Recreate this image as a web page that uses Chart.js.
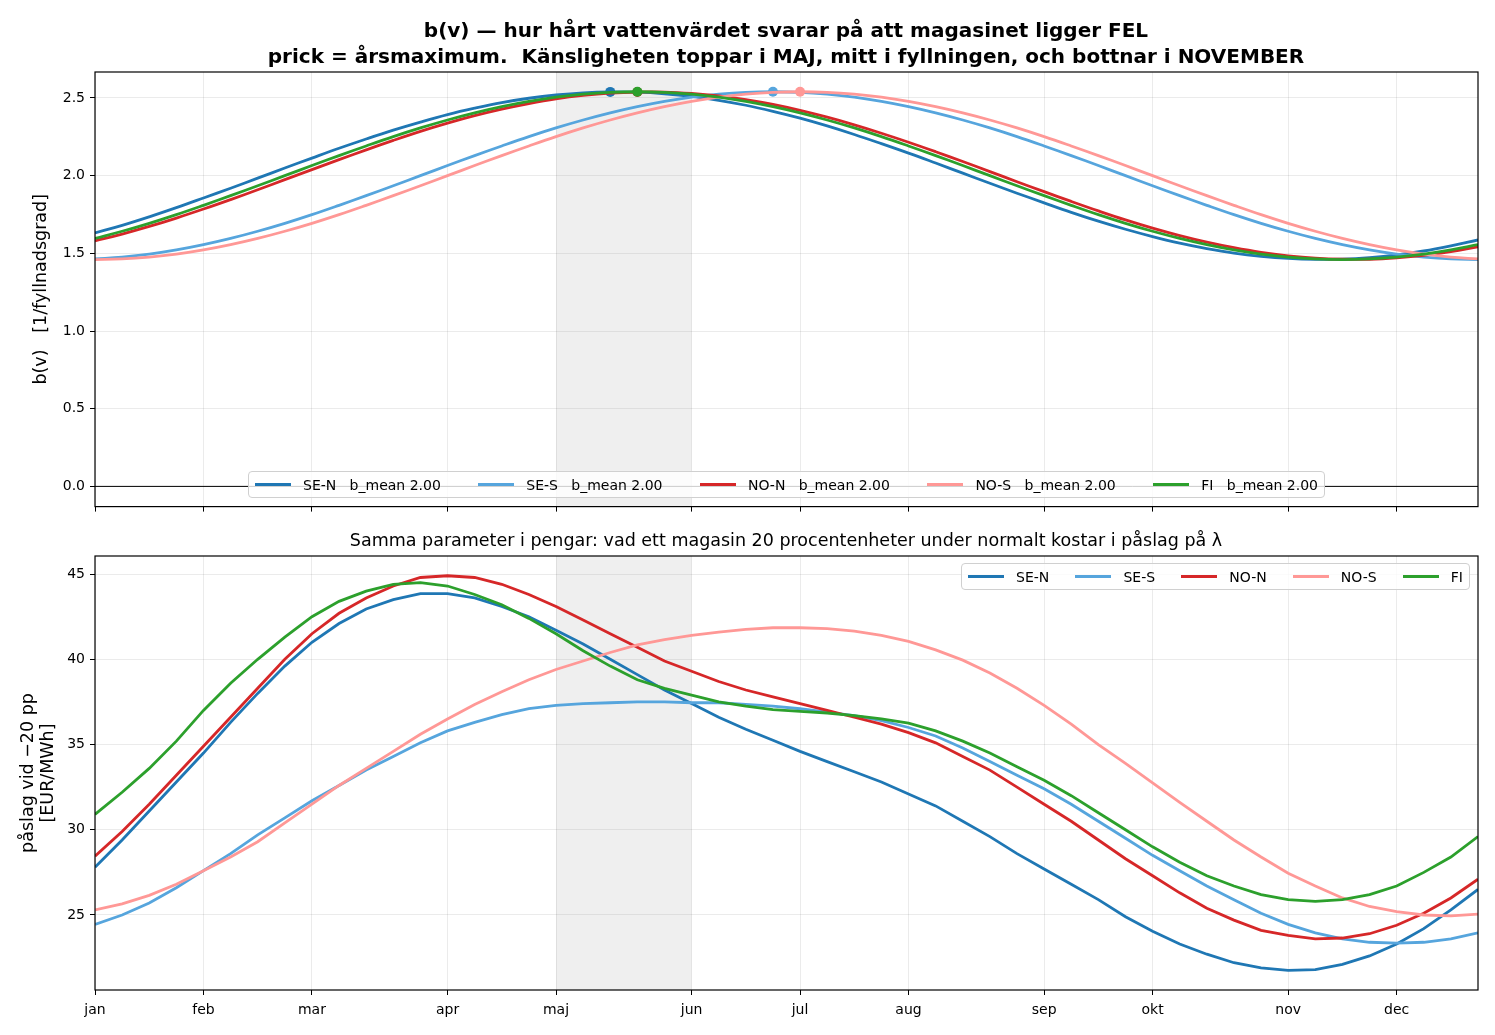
<!DOCTYPE html>
<html>
<head>
<meta charset="utf-8">
<script src="https://cdn.jsdelivr.net/npm/chart.js@4.4.1/dist/chart.umd.min.js"></script>
<style>
  body { margin: 0; background: #fff; width: 1495px; height: 1035px; overflow: hidden; font-family: "DejaVu Sans", sans-serif; }
  .box { position: absolute; left: 0; width: 1495px; }
  #topBox { top: 0; height: 520px; }
  #botBox { top: 520px; height: 515px; }
  .title { position: absolute; width: 1400px; left: 86px; text-align: center; color: #000; white-space: pre; }
  #mainTitle { top: 17px; font-size: 20px; font-weight: bold; line-height: 26px; }
  #subTitle { top: 530px; font-size: 17.5px; line-height: 20px; }
  .legend { position: absolute; display: flex; align-items: center; background: rgba(255,255,255,0.8);
            border: 1px solid #d0d0d0; border-radius: 4px; font-size: 14px; color: #000; padding: 0 6px; box-sizing: border-box; }
  .legend span.item { display: flex; align-items: center; white-space: pre; }
  .legend i { display: inline-block; width: 36px; height: 3px; margin-right: 12px; }
</style>
</head>
<body>
<div class="box" id="topBox"><canvas id="topChart"></canvas></div>
<div class="box" id="botBox"><canvas id="botChart"></canvas></div>
<div class="title" id="mainTitle">b(v) — hur hårt vattenvärdet svarar på att magasinet ligger FEL
prick = årsmaximum.  Känsligheten toppar i MAJ, mitt i fyllningen, och bottnar i NOVEMBER</div>
<div class="title" id="subTitle">Samma parameter i pengar: vad ett magasin 20 procentenheter under normalt kostar i påslag på λ</div>
<div class="legend" id="topLegend" style="left:248px; top:471px; width:1077px; height:27px; justify-content:space-between;"></div>
<div class="legend" id="botLegend" style="left:961px; top:563px; width:509px; height:27px; justify-content:space-between;"></div>
<script>
// Regions and colours
const regions = ['SE-N', 'SE-S', 'NO-N', 'NO-S', 'FI'];
const colors = ['#1f77b4', '#56a5dd', '#d62728', '#ff9896', '#2ca02c'];

// Weekly points over the year, month tick positions (week index)
const weeks = Array.from({ length: 52 }, (_, i) => i);
const monthWeeks = [0, 4, 8, 13, 17, 22, 26, 30, 35, 39, 44, 48];
const monthLabels = ['jan', 'feb', 'mar', 'apr', 'maj', 'jun', 'jul', 'aug', 'sep', 'okt', 'nov', 'dec'];
const topTicks = [0, 0.5, 1.0, 1.5, 2.0, 2.5];
const botTicks = [25, 30, 35, 40, 45];

// b(v) per region (top panel)
const bSEN = [1.631, 1.680, 1.735, 1.794, 1.856, 1.919, 1.984, 2.049, 2.113, 2.176, 2.236, 2.293, 2.345, 2.393, 2.434, 2.470, 2.498, 2.519, 2.533, 2.539,
  2.537, 2.527, 2.510, 2.485, 2.453, 2.414, 2.370, 2.320, 2.265, 2.206, 2.145, 2.081, 2.016, 1.951, 1.887, 1.825, 1.764, 1.707, 1.655, 1.608,
  1.566, 1.531, 1.502, 1.481, 1.467, 1.461, 1.463, 1.473, 1.490, 1.515, 1.548, 1.586];
const bSES = [1.464, 1.476, 1.495, 1.522, 1.556, 1.596, 1.642, 1.693, 1.749, 1.809, 1.871, 1.935, 2.000, 2.065, 2.129, 2.191, 2.251, 2.307, 2.358, 2.404,
  2.444, 2.478, 2.505, 2.524, 2.536, 2.540, 2.536, 2.524, 2.505, 2.478, 2.444, 2.404, 2.358, 2.307, 2.251, 2.191, 2.129, 2.065, 2.000, 1.935,
  1.871, 1.809, 1.749, 1.693, 1.642, 1.596, 1.556, 1.522, 1.495, 1.476, 1.464, 1.460];
const bNON = [1.580, 1.624, 1.673, 1.727, 1.785, 1.846, 1.909, 1.974, 2.039, 2.103, 2.166, 2.227, 2.285, 2.338, 2.386, 2.428, 2.464, 2.494, 2.516, 2.531,
  2.538, 2.538, 2.529, 2.513, 2.489, 2.458, 2.420, 2.376, 2.327, 2.273, 2.215, 2.154, 2.091, 2.026, 1.961, 1.897, 1.834, 1.773, 1.715, 1.662,
  1.614, 1.572, 1.536, 1.506, 1.484, 1.469, 1.462, 1.462, 1.471, 1.487, 1.511, 1.542];
const bNOS = [1.460, 1.464, 1.476, 1.495, 1.522, 1.556, 1.596, 1.642, 1.693, 1.749, 1.809, 1.871, 1.935, 2.000, 2.065, 2.129, 2.191, 2.251, 2.307, 2.358,
  2.404, 2.444, 2.478, 2.505, 2.524, 2.536, 2.540, 2.536, 2.524, 2.505, 2.478, 2.444, 2.404, 2.358, 2.307, 2.251, 2.191, 2.129, 2.065, 2.000,
  1.935, 1.871, 1.809, 1.749, 1.693, 1.642, 1.596, 1.556, 1.522, 1.495, 1.476, 1.464];
const bFI = [1.596, 1.642, 1.693, 1.749, 1.809, 1.871, 1.935, 2.000, 2.065, 2.129, 2.191, 2.251, 2.307, 2.358, 2.404, 2.444, 2.478, 2.505, 2.524, 2.536,
  2.540, 2.536, 2.524, 2.505, 2.478, 2.444, 2.404, 2.358, 2.307, 2.251, 2.191, 2.129, 2.065, 2.000, 1.935, 1.871, 1.809, 1.749, 1.693, 1.642,
  1.596, 1.556, 1.522, 1.495, 1.476, 1.464, 1.460, 1.464, 1.476, 1.495, 1.522, 1.556];
const bMean = [2.00, 2.00, 2.00, 2.00, 2.00];

// påslag vid -20 pp [EUR/MWh] (bottom panel)
const pSEN = [27.8, 29.4, 31.1, 32.8, 34.5, 36.3, 38.0, 39.6, 41.0, 42.1, 42.95, 43.5, 43.85, 43.85, 43.6, 43.1, 42.5, 41.7, 40.9, 40.0,
  39.1, 38.2, 37.4, 36.6, 35.9, 35.25, 34.6, 34.0, 33.4, 32.8, 32.1, 31.4, 30.5, 29.6, 28.6, 27.7, 26.8, 25.9, 24.9, 24.05,
  23.3, 22.7, 22.2, 21.9, 21.75, 21.8, 22.1, 22.6, 23.3, 24.2, 25.3, 26.5];
const pSES = [24.45, 25.0, 25.7, 26.6, 27.6, 28.6, 29.7, 30.7, 31.7, 32.6, 33.5, 34.3, 35.1, 35.8, 36.3, 36.75, 37.1, 37.3, 37.4, 37.45,
  37.5, 37.5, 37.45, 37.45, 37.35, 37.25, 37.1, 36.9, 36.7, 36.4, 36.0, 35.5, 34.8, 34.0, 33.2, 32.4, 31.5, 30.5, 29.5, 28.5,
  27.6, 26.7, 25.9, 25.1, 24.45, 23.95, 23.6, 23.4, 23.35, 23.4, 23.6, 23.95];
const pNON = [28.45, 29.9, 31.5, 33.2, 34.9, 36.6, 38.3, 40.0, 41.5, 42.7, 43.6, 44.3, 44.8, 44.9, 44.8, 44.4, 43.8, 43.1, 42.3, 41.5,
  40.7, 39.9, 39.3, 38.7, 38.2, 37.8, 37.4, 37.0, 36.6, 36.2, 35.7, 35.1, 34.3, 33.5, 32.5, 31.5, 30.5, 29.4, 28.3, 27.3,
  26.3, 25.4, 24.7, 24.1, 23.8, 23.6, 23.65, 23.9, 24.4, 25.1, 26.0, 27.1];
const pNOS = [25.3, 25.65, 26.15, 26.8, 27.6, 28.4, 29.3, 30.4, 31.5, 32.6, 33.6, 34.6, 35.6, 36.5, 37.35, 38.1, 38.8, 39.4, 39.9, 40.4,
  40.85, 41.15, 41.4, 41.6, 41.75, 41.85, 41.85, 41.8, 41.65, 41.4, 41.05, 40.55, 39.95, 39.2, 38.3, 37.3, 36.2, 35.0, 33.9, 32.75,
  31.6, 30.5, 29.4, 28.4, 27.45, 26.7, 26.0, 25.5, 25.2, 25.0, 24.95, 25.05];
const pFI = [30.9, 32.2, 33.6, 35.2, 37.0, 38.6, 40.0, 41.3, 42.5, 43.4, 44.0, 44.4, 44.5, 44.3, 43.8, 43.2, 42.4, 41.5, 40.5, 39.6,
  38.8, 38.3, 37.9, 37.5, 37.25, 37.05, 36.95, 36.85, 36.7, 36.5, 36.25, 35.8, 35.2, 34.5, 33.7, 32.9, 32.0, 31.0, 30.0, 29.0,
  28.1, 27.3, 26.7, 26.2, 25.9, 25.8, 25.9, 26.2, 26.7, 27.5, 28.4, 29.6];

// spring-filling band (week index)
const bandFrom = 17, bandTo = 22;

const topSeries = [bSEN, bSES, bNON, bNOS, bFI];
const botSeries = [pSEN, pSES, pNON, pNOS, pFI];

Chart.defaults.font.family = '"DejaVu Sans", sans-serif';
Chart.defaults.color = '#000';

// frame, shaded band and zero line
const framePlugin = {
  id: 'frame',
  beforeDatasetsDraw(chart, args, opts) {
    const { ctx, chartArea: a, scales: { x, y } } = chart;
    ctx.save();
    ctx.fillStyle = 'rgba(128,128,128,0.13)';
    const x0 = x.getPixelForValue(bandFrom), x1 = x.getPixelForValue(bandTo);
    ctx.fillRect(x0, a.top, x1 - x0, a.bottom - a.top);
    if (opts.zeroLine) {
      const yz = y.getPixelForValue(0);
      ctx.strokeStyle = '#000';
      ctx.lineWidth = 1;
      ctx.beginPath();
      ctx.moveTo(a.left, yz);
      ctx.lineTo(a.right, yz);
      ctx.stroke();
    }
    ctx.restore();
  },
  afterDraw(chart) {
    const { ctx, chartArea: a } = chart;
    ctx.save();
    ctx.strokeStyle = '#000';
    ctx.lineWidth = 1.2;
    ctx.strokeRect(a.left, a.top, a.right - a.left, a.bottom - a.top);
    ctx.restore();
  }
};

function xScale(showLabels) {
  return {
    type: 'linear', min: 0, max: 51,
    afterBuildTicks: s => { s.ticks = monthWeeks.map(v => ({ value: v })); },
    afterFit: s => { s.height = showLabels ? 45 : 13; },
    grid: { color: 'rgba(0,0,0,0.08)', tickColor: '#000', tickLength: 5, drawTicks: true },
    border: { display: false },
    ticks: {
      display: showLabels, autoSkip: false, maxRotation: 0, padding: 7,
      font: { size: 14 }, color: '#000',
      callback: v => monthLabels[monthWeeks.indexOf(v)]
    }
  };
}

function yScale(min, max, tickVals, fmt, title, titlePad, lh) {
  return {
    min: min, max: max,
    afterBuildTicks: s => { s.ticks = tickVals.map(v => ({ value: v })); },
    afterFit: s => { s.width = 95; },
    grid: { color: 'rgba(0,0,0,0.08)', tickColor: '#000', tickLength: 5 },
    border: { display: false },
    ticks: { font: { size: 14 }, color: '#000', padding: 5, callback: fmt },
    title: { display: true, text: title, font: { size: 17.5, lineHeight: lh }, padding: { top: titlePad, bottom: 0 }, color: '#000' }
  };
}

function lineSets(series, withPeaks) {
  return series.map((d, i) => {
    const peak = d.indexOf(Math.max(...d));
    return {
      label: regions[i],
      data: d,
      order: series.length - i,
      borderColor: colors[i],
      backgroundColor: colors[i],
      borderWidth: 2.8,
      tension: withPeaks ? 0.4 : 0,
      pointRadius: withPeaks ? d.map((_, k) => (k === peak ? 5 : 0)) : 0,
      pointHoverRadius: 0,
      pointBorderWidth: 0
    };
  });
}

new Chart(document.getElementById('topChart'), {
  type: 'line',
  data: { labels: weeks, datasets: lineSets(topSeries, true) },
  options: {
    responsive: true, maintainAspectRatio: false, animation: false,
    layout: { padding: { left: 0, right: 17, top: 72, bottom: 0 } },
    events: [],
    plugins: {
      legend: { display: false },
      tooltip: { enabled: false },
      frame: { zeroLine: true }
    },
    scales: {
      x: xScale(false),
      y: yScale(-0.13, 2.667, topTicks, v => v.toFixed(1), 'b(v)   [1/fyllnadsgrad]', 31, 1.2)
    }
  },
  plugins: [framePlugin]
});

new Chart(document.getElementById('botChart'), {
  type: 'line',
  data: { labels: weeks, datasets: lineSets(botSeries, false) },
  options: {
    responsive: true, maintainAspectRatio: false, animation: false,
    layout: { padding: { left: 0, right: 17, top: 36, bottom: 0 } },
    events: [],
    plugins: {
      legend: { display: false },
      tooltip: { enabled: false },
      frame: { zeroLine: false }
    },
    scales: {
      x: xScale(true),
      y: yScale(20.6, 46.06, botTicks, v => String(v), ['påslag vid −20 pp', '[EUR/MWh]'], 18, 1.15)
    }
  },
  plugins: [framePlugin]
});

// HTML legends
function buildLegend(el, withMean) {
  regions.forEach((r, i) => {
    const s = document.createElement('span');
    s.className = 'item';
    const sw = document.createElement('i');
    sw.style.background = colors[i];
    s.appendChild(sw);
    s.appendChild(document.createTextNode(withMean ? r + '   b_mean ' + bMean[i].toFixed(2) : r));
    el.appendChild(s);
  });
}
buildLegend(document.getElementById('topLegend'), true);
buildLegend(document.getElementById('botLegend'), false);
</script>
</body>
</html>
